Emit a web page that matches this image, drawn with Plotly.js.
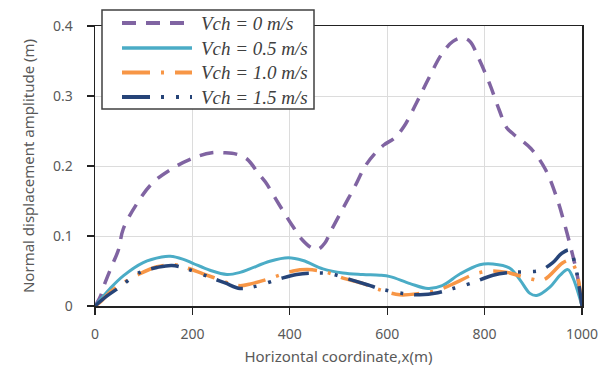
<!DOCTYPE html>
<html>
<head>
<meta charset="utf-8">
<script src="https://cdn.plot.ly/plotly-3.0.1.min.js"></script>
<style>html,body{margin:0;padding:0;background:#fff;}#chart{width:604px;height:367px;}</style>
</head>
<body>
<div id="chart"></div>
<script>
// Series names
const seriesNames = ["Vch = 0 m/s", "Vch = 0.5 m/s", "Vch = 1.0 m/s", "Vch = 1.5 m/s"];

// Vch = 0 m/s
const x0 = [0, 10, 20, 35, 48, 58, 85, 117, 160, 208, 240, 265, 290, 312, 335, 350, 378, 405, 425, 445, 458, 472, 485, 508, 533, 555, 575, 593, 615, 634, 660, 685, 712, 735, 755, 770, 787, 810, 830, 845, 860, 895, 925, 948, 965, 980, 990, 1000];
const y0 = [0, 0.012, 0.032, 0.058, 0.08, 0.11, 0.145, 0.175, 0.197, 0.213, 0.219, 0.219, 0.217, 0.21, 0.19, 0.177, 0.145, 0.115, 0.095, 0.083, 0.081, 0.09, 0.108, 0.138, 0.17, 0.2, 0.218, 0.23, 0.24, 0.256, 0.29, 0.325, 0.36, 0.378, 0.383, 0.378, 0.355, 0.318, 0.28, 0.255, 0.245, 0.225, 0.195, 0.155, 0.115, 0.075, 0.045, 0];

// Vch = 0.5 m/s
const x05 = [0, 31, 58, 99, 137, 155, 180, 201, 236, 271, 298, 318, 359, 397, 427, 468, 509, 550, 585, 606, 647, 684, 713, 750, 790, 817, 852, 873, 893, 907, 934, 955, 971, 981, 1000];
const y05 = [0, 0.025, 0.043, 0.062, 0.07, 0.071, 0.067, 0.061, 0.051, 0.045, 0.048, 0.053, 0.064, 0.069, 0.065, 0.053, 0.047, 0.045, 0.044, 0.042, 0.032, 0.025, 0.029, 0.046, 0.059, 0.06, 0.054, 0.037, 0.018, 0.015, 0.027, 0.044, 0.052, 0.041, 0];

// Vch = 1.0 m/s
const x10 = [0, 10, 31, 51, 92, 127, 160, 181, 222, 250, 277, 298, 322, 353, 407, 437, 476, 513, 551, 581, 626, 667, 702, 743, 777, 811, 846, 893, 920, 961, 975, 988, 1000];
const y10 = [0, 0.005, 0.02, 0.03, 0.046, 0.056, 0.059, 0.056, 0.046, 0.039, 0.032, 0.029, 0.032, 0.038, 0.05, 0.052, 0.048, 0.039, 0.032, 0.024, 0.016, 0.018, 0.022, 0.034, 0.045, 0.05, 0.048, 0.039, 0.037, 0.062, 0.065, 0.05, 0];

// Vch = 1.5 m/s
const x15 = [0, 24, 51, 92, 127, 158, 189, 236, 267, 298, 329, 380, 414, 445, 483, 528, 561, 589, 632, 667, 704, 735, 770, 817, 852, 883, 914, 940, 958, 975, 986, 1000];
const y15 = [0, 0.014, 0.027, 0.048, 0.055, 0.058, 0.053, 0.041, 0.033, 0.025, 0.028, 0.039, 0.045, 0.047, 0.046, 0.037, 0.03, 0.024, 0.018, 0.016, 0.019, 0.025, 0.032, 0.044, 0.048, 0.049, 0.051, 0.062, 0.075, 0.08, 0.058, 0];

// Axis ticks
const xTickVals = [0, 200, 400, 600, 800, 1000];
const xTickText = ["0", "200", "400", "600", "800", "1000"];
const yTickVals = [0, 0.1, 0.2, 0.3, 0.4];
const yTickText = ["0", "0.1", "0.2", "0.3", "0.4"];

const styles = [
  {color: "#8064A2", width: 3.5, dash: "14px,10px"},
  {color: "#4BACC6", width: 3, dash: "solid"},
  {color: "#F79646", width: 3.5, dash: "28px,11px,3px,11px"},
  {color: "#264478", width: 3.5, dash: "28px,11px,3px,12px,3px,11px"}
];
const xs = [x0, x05, x10, x15];
const ys = [y0, y05, y10, y15];

const traces = seriesNames.map((n, i) => ({
  type: "scatter", mode: "lines", name: n, x: xs[i], y: ys[i],
  line: {color: styles[i].color, width: styles[i].width, dash: styles[i].dash, shape: "spline", smoothing: 1}
}));

// Manual legend (paper coordinates derived from pixel layout)
const W = 604, H = 367, M = {l: 95, r: 22, t: 26, b: 61};
const pw = W - M.l - M.r, ph = H - M.t - M.b;
const px = p => (p - M.l) / pw;
const py = p => (H - M.b - p) / ph;
const shapes = [{
  type: "rect", xref: "paper", yref: "paper",
  x0: px(102), x1: px(314), y0: py(109), y1: py(10),
  fillcolor: "#fff", line: {color: "#404040", width: 1.5}, layer: "above"
}];
const annotations = [];
const rowY = [23, 48, 72.5, 97];
seriesNames.forEach((n, i) => {
  shapes.push({
    type: "line", xref: "paper", yref: "paper",
    x0: px(122), x1: px(192), y0: py(rowY[i]), y1: py(rowY[i]),
    line: {color: styles[i].color, width: styles[i].width + 0.5, dash: styles[i].dash}, layer: "above"
  });
  annotations.push({
    xref: "paper", yref: "paper", x: px(199), y: py(rowY[i]),
    xanchor: "left", yanchor: "middle", showarrow: false,
    text: "<i>" + n + "</i>",
    font: {family: "Liberation Serif, serif", size: 19, color: "#404040"}
  });
});

const tickFont = {family: "Noto Sans, Open Sans, sans-serif", size: 14, color: "#595959"};
const layout = {
  width: W, height: H,
  margin: M,
  paper_bgcolor: "#fff", plot_bgcolor: "#fff",
  showlegend: false,
  shapes: shapes, annotations: annotations,
  xaxis: {
    range: [0, 1000], tickvals: xTickVals, ticktext: xTickText,
    showgrid: true, gridcolor: "#dcdcdc", gridwidth: 1, zeroline: false,
    showline: true, linecolor: "#222", linewidth: 1.5, mirror: true,
    ticks: "outside", ticklen: 7, tickcolor: "#222", tickwidth: 1.2,
    tickfont: tickFont, ticklabelstandoff: 8,
    title: {text: "Horizontal coordinate,x(m)", font: {family: "Noto Sans, Open Sans, sans-serif", size: 15, color: "#595959"}, standoff: 9}
  },
  yaxis: {
    range: [0, 0.4], tickvals: yTickVals, ticktext: yTickText,
    showgrid: true, gridcolor: "#dcdcdc", gridwidth: 1, zeroline: false,
    showline: true, linecolor: "#222", linewidth: 1.5, mirror: true,
    ticks: "outside", ticklen: 7, tickcolor: "#222", tickwidth: 1.2,
    tickfont: tickFont, ticklabelstandoff: 11,
    title: {text: "Normal displacement amplitude (m)", font: {family: "Noto Sans, Open Sans, sans-serif", size: 15, color: "#595959"}, standoff: 14}
  }
};

Plotly.newPlot("chart", traces, layout, {displayModeBar: false, staticPlot: true});
</script>
</body>
</html>
